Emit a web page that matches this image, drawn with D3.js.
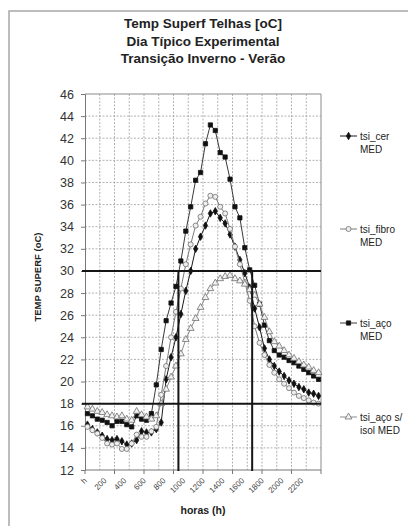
<!DOCTYPE html>
<html>
<head>
<meta charset="utf-8">
<script src="https://cdn.jsdelivr.net/npm/d3@7"></script>
<style>
  body { margin: 0; background: #fff; }
  svg { display: block; font-family: Arial, "Liberation Sans", sans-serif; }
</style>
</head>
<body>
<div id="grafico"></div>
<script>
// categorias: meia hora, 0:00 ate 23:30
const categorias = ["0","30","100","130","200","230","300","330","400","430","500","530",
  "600","630","700","730","800","830","900","930","1000","1030","1100","1130",
  "1200","1230","1300","1330","1400","1430","1500","1530","1600","1630","1700","1730",
  "1800","1830","1900","1930","2000","2030","2100","2130","2200","2230","2300","2330"]
const rotulosX = ["h","200","400","600","800","1000","1200","1400","1600","1800","2000","2200"]
const rotulosXCat = ["0","200","400","600","800","1000","1200","1400","1600","1800","2000","2200"]

const tsiCer = [16.1,15.7,15.4,15.1,14.8,14.7,14.8,14.6,14.3,14.4,14.7,15.5,15.4,15.4,15.7,16.3,
  20.2,22.2,24.0,26.1,28.2,30.0,32.0,33.1,34.1,35.2,35.4,34.8,34.3,33.3,32.2,31.0,
  29.8,28.5,26.6,24.9,23.0,22.0,21.4,20.9,20.5,20.1,19.8,19.5,19.3,19.0,18.9,18.7]
const tsiFibro = [15.9,15.6,15.3,14.9,14.4,14.3,14.4,13.9,13.9,14.4,15.2,15.0,15.0,15.5,15.9,18.8,
  21.4,24.0,26.3,28.4,30.6,32.4,34.1,34.9,36.1,36.8,36.7,35.8,35.2,33.8,32.2,30.6,
  29.0,27.3,25.0,23.5,22.4,21.5,20.8,20.2,19.8,19.4,19.0,18.7,18.5,18.3,18.1,18.0]
const tsiAco = [17.1,16.9,16.6,16.5,16.3,16.0,16.4,16.4,16.1,15.9,16.9,16.6,16.5,17.1,19.7,22.9,
  25.5,27.1,28.6,30.9,33.6,35.8,38.2,38.9,41.5,43.2,42.7,40.7,40.3,38.3,35.8,34.8,
  32.1,30.1,28.7,27.0,25.1,23.7,22.8,22.4,22.2,21.9,21.7,21.4,21.1,20.8,20.5,20.2]
const tsiAcoIsol = [17.7,17.5,17.3,17.2,17.0,16.9,16.8,16.9,16.6,16.5,17.3,17.0,16.8,16.6,16.9,18.0,
  19.3,20.4,21.4,22.5,23.8,24.8,25.7,26.7,27.6,28.4,28.9,29.3,29.5,29.6,29.3,29.1,
  28.8,28.3,27.8,27.0,25.8,24.5,23.6,23.2,22.8,22.4,22.1,21.8,21.5,21.3,21.0,20.8]

const limitesTemp = [30, 18]
const limitesHora = ["930", "1700"]

const titulo = ["Temp Superf Telhas [oC]", "Dia Típico Experimental", "Transição Inverno - Verão"]
const legendas = [["tsi_cer", "MED"], ["tsi_fibro", "MED"], ["tsi_aço", "MED"], ["tsi_aço s/", "isol MED"]]

const W = 408, H = 526
const pLeft = 85, pRight = 321, pTop = 94, pBottom = 470

const svg = d3.select('#grafico').append('svg')
  .attr('width', W)
  .attr('height', H)

// moldura do grafico
svg.append('rect')
  .attr('x', 9).attr('y', 11)
  .attr('width', 430).attr('height', 540)
  .attr('fill', 'none')
  .attr('stroke', '#a8a8a8')
  .attr('stroke-width', 1.5)

svg.append('g').selectAll('text').data(titulo).enter().append('text')
  .attr('x', 203)
  .attr('y', (d, i) => 28 + i * 17.7)
  .attr('text-anchor', 'middle')
  .attr('font-weight', 'bold')
  .attr('font-size', '13.5px')
  .attr('fill', '#222')
  .text(d => d)

const x = d3.scaleBand().domain(categorias).range([pLeft, pRight])
const y = d3.scaleLinear().domain([12, 46]).range([pBottom, pTop])
const cx = c => x(c) + x.bandwidth() / 2

// grade
const grade = svg.append('g')
grade.selectAll('.gy').data(y.ticks(17).filter(v => v > 12 && v < 46)).enter().append('line')
  .attr('x1', pLeft).attr('x2', pRight)
  .attr('y1', d => y(d)).attr('y2', d => y(d))
  .attr('stroke', '#a0a0a0').attr('stroke-width', 0.8).attr('stroke-dasharray', '2,1.5')
grade.selectAll('.gx').data(categorias.filter((c, i) => i % 3 === 0 && i > 0)).enter().append('line')
  .attr('x1', d => x(d)).attr('x2', d => x(d))
  .attr('y1', pTop).attr('y2', pBottom)
  .attr('stroke', '#a0a0a0').attr('stroke-width', 0.8).attr('stroke-dasharray', '2,1.5')

// borda superior e direita
svg.append('path')
  .attr('d', `M${pLeft},${pTop}H${pRight}V${pBottom}`)
  .attr('fill', 'none').attr('stroke', '#8a8a8a').attr('stroke-width', 1)

// eixo y
const yAxis = d3.axisLeft(y).tickValues(y.ticks(17)).tickSize(4).tickFormat(d3.format('d'))
const gy = svg.append('g').attr('transform', `translate(${pLeft},0)`).call(yAxis)
gy.selectAll('text').attr('font-size', '12.5px').attr('fill', '#333').attr('x', -11)
gy.selectAll('line, path').attr('stroke', '#777')

// eixo x: ticks a cada 6 categorias
const ticksX = categorias.filter((c, i) => i % 6 === 0)
const gx = svg.append('g')
gx.append('line').attr('x1', pLeft).attr('x2', pRight).attr('y1', pBottom).attr('y2', pBottom)
  .attr('stroke', '#777')
gx.selectAll('.tk').data(ticksX.concat([null])).enter().append('line')
  .attr('x1', d => d === null ? pRight : x(d)).attr('x2', d => d === null ? pRight : x(d))
  .attr('y1', pBottom).attr('y2', pBottom + 4)
  .attr('stroke', '#777')
gx.selectAll('text').data(rotulosXCat).enter().append('text')
  .attr('transform', d => `translate(${cx(d) - 2},${pBottom + 9}) rotate(-45)`)
  .attr('text-anchor', 'end')
  .attr('dy', '0.35em')
  .attr('font-size', '8px')
  .attr('fill', '#444')
  .text((d, i) => rotulosX[i])

svg.append('text')
  .attr('x', 203).attr('y', 514)
  .attr('text-anchor', 'middle')
  .attr('font-weight', 'bold').attr('font-size', '10.5px').attr('fill', '#222')
  .text('horas (h)')

svg.append('text')
  .attr('transform', 'translate(40.5,277) rotate(-90)')
  .attr('text-anchor', 'middle')
  .attr('font-weight', 'bold').attr('font-size', '9.5px').attr('fill', '#222')
  .text('TEMP SUPERF (oC)')

// series
const series = [
  { valores: tsiCer, linha: '#1a1a1a', simbolo: d3.symbolDiamond, tam: 16, fill: '#111', stroke: '#111' },
  { valores: tsiFibro, linha: '#7a7a7a', simbolo: d3.symbolCircle, tam: 20, fill: '#eeeeee', stroke: '#707070' },
  { valores: tsiAco, linha: '#3a3a3a', simbolo: d3.symbolSquare, tam: 18, fill: '#111', stroke: '#111' },
  { valores: tsiAcoIsol, linha: '#8a8a8a', simbolo: d3.symbolTriangle, tam: 20, fill: '#f2f2f2', stroke: '#707070' }
]

const linha = d3.line().x((d, i) => cx(categorias[i])).y(d => y(d))

series.forEach(s => {
  const g = svg.append('g')
  g.append('path').datum(s.valores)
    .attr('d', linha)
    .attr('fill', 'none').attr('stroke', s.linha).attr('stroke-width', 1)
  g.selectAll('path.m').data(s.valores).enter().append('path')
    .attr('class', 'm')
    .attr('d', d3.symbol().type(s.simbolo).size(s.tam))
    .attr('transform', (d, i) => `translate(${cx(categorias[i])},${y(d)})`)
    .attr('fill', s.fill).attr('stroke', s.stroke).attr('stroke-width', 0.8)
})

// linhas de referencia (faixa de conforto)
const ref = svg.append('g')
ref.selectAll('.h').data(limitesTemp).enter().append('line')
  .attr('x1', pLeft - 3).attr('x2', pRight)
  .attr('y1', d => y(d)).attr('y2', d => y(d))
  .attr('stroke', '#151515').attr('stroke-width', 2)
ref.selectAll('.v').data(limitesHora).enter().append('line')
  .attr('x1', d => x(d)).attr('x2', d => x(d))
  .attr('y1', y(limitesTemp[0])).attr('y2', pBottom + 1)
  .attr('stroke', '#151515').attr('stroke-width', 2)

// legenda
const legY = [136, 229, 323, 417]
const leg = svg.append('g')
legendas.forEach((l, i) => {
  const s = series[i]
  const g = leg.append('g').attr('transform', `translate(0,${legY[i]})`)
  g.append('line').attr('x1', 340).attr('x2', 357).attr('y1', 0).attr('y2', 0)
    .attr('stroke', s.linha).attr('stroke-width', 1)
  g.append('path')
    .attr('d', d3.symbol().type(s.simbolo).size(s.tam))
    .attr('transform', 'translate(348.5,0)')
    .attr('fill', s.fill).attr('stroke', s.stroke).attr('stroke-width', 0.8)
  g.selectAll('text').data(l).enter().append('text')
    .attr('x', 360)
    .attr('y', (d, j) => j * 13)
    .attr('dy', '0.35em')
    .attr('font-size', '10px')
    .attr('fill', '#222')
    .text(d => d)
})
</script>
</body>
</html>
